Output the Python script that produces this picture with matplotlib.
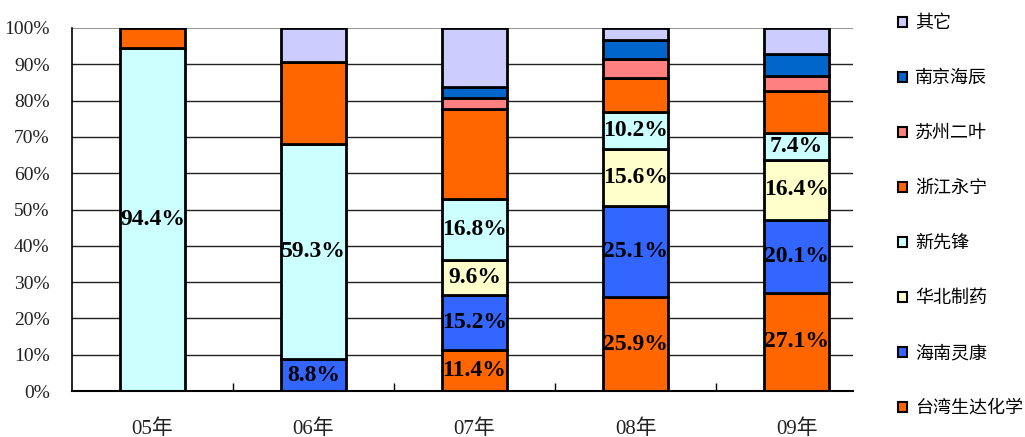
import numpy as np
import matplotlib
matplotlib.use("Agg")
import matplotlib.pyplot as plt
from matplotlib.patches import Patch
from matplotlib.ticker import FixedLocator

# data (share of market, %)
years = ['05年', '06年', '07年', '08年', '09年']
series_names = ['台湾生达化学', '海南灵康', '华北制药', '新先锋', '浙江永宁', '苏州二叶', '南京海辰', '其它']
taiwan = [0, 0, 11.4, 25.9, 27.1]
hainan = [0, 8.8, 15.2, 25.1, 20.1]
huabei = [0, 0, 9.6, 15.6, 16.4]
xinxianfeng = [94.4, 59.3, 16.8, 10.2, 7.4]
zhejiang = [5.6, 22.4, 24.8, 9.5, 11.6]
suzhou = [0, 0, 2.9, 5.1, 4.3]
nanjing = [0, 0, 3.0, 5.4, 5.8]
other = [0, 9.5, 16.3, 3.2, 7.3]

colors = ['#FF6600', '#3366FF', '#FFFFCC', '#CCFFFF', '#FF6600', '#FF8080', '#0066CC', '#CCCCFF']
labeled = [True, True, True, True, False, False, False, False]

all_series = [taiwan, hainan, huabei, xinxianfeng, zhejiang, suzhou, nanjing, other]

fig = plt.figure(figsize=(10.25, 4.37), dpi=100)
ax = fig.add_axes([0.0702, 0.105, 0.762, 0.831])

x = np.arange(len(years))
bar_w = 0.4

# grid lines first
for v in range(10, 100, 10):
    ax.axhline(v, color='#222222', lw=1, zorder=1)
ax.axhline(100, color='#999999', lw=1.5, zorder=1)

bottom = np.zeros(len(years))
for vals, col, lab in zip(all_series, colors, labeled):
    vals = np.array(vals, dtype=float)
    mask = vals > 0
    ax.bar(x[mask], vals[mask], bar_w, bottom=bottom[mask], color=col,
           edgecolor='black', linewidth=2, zorder=3)
    if lab:
        for i in np.where(mask)[0]:
            ax.text(x[i], bottom[i] + vals[i] / 2, '%.1f%%' % vals[i],
                    ha='center', va='center', fontsize=17, fontweight='bold',
                    family='Liberation Serif', zorder=4)
    bottom += vals

ax.set_xlim(-0.5, 4.35)
ax.set_ylim(0, 100)
ax.set_yticks(np.arange(0, 101, 10))
ax.set_yticklabels(['%d%%' % v for v in range(0, 101, 10)],
                   family='Liberation Serif', fontsize=14, color='#222222')
ax.tick_params(axis='y', length=0, pad=16)

ax.set_xticks(x)
ax.set_xticklabels(years, family=['Liberation Serif', 'Noto Sans CJK SC'],
                   fontsize=15, color='#222222')
ax.tick_params(axis='x', which='major', length=0, pad=20)
ax.xaxis.set_minor_locator(FixedLocator([0.5, 1.5, 2.5, 3.5]))
ax.tick_params(axis='x', which='minor', direction='in', length=6, width=1)

for s in ['top', 'right']:
    ax.spines[s].set_visible(False)
ax.spines['left'].set_linewidth(1.2)
ax.spines['bottom'].set_linewidth(1.5)
ax.spines['bottom'].set_zorder(5)

handles = [Patch(facecolor=c, edgecolor='black', linewidth=1.5) for c in colors]
leg = fig.legend(handles[::-1], series_names[::-1], loc='upper left',
                 bbox_to_anchor=(0.860, 1.005), frameon=False,
                 prop={'family': 'Noto Sans CJK SC', 'size': 13},
                 handlelength=0.5, handleheight=0.5, handletextpad=0.45,
                 labelspacing=2.05)

fig.savefig('out.png', dpi=100)
